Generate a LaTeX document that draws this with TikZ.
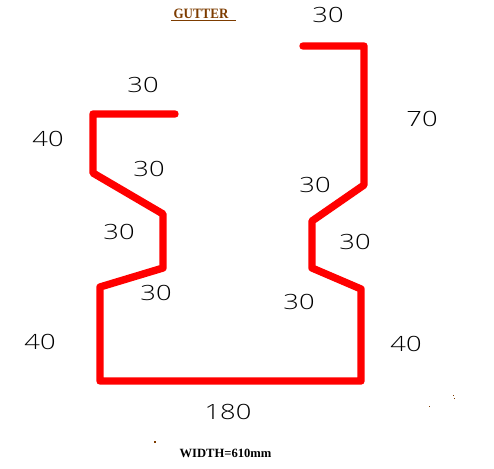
\documentclass[tikz,border=0pt]{standalone}
\usepackage{fontspec}
\setmainfont{Liberation Serif}
\setsansfont{Open Sans Light}
\usepackage{tikz}
\definecolor{gutterred}{RGB}{255,0,0}
\definecolor{titlebrown}{RGB}{125,60,0}
\tikzset{
	dimtext/.style={font=\sffamily\fontsize{21}{21}\selectfont,text=black,xscale=1.3,inner sep=0pt},
	profile/.style={draw=gutterred,line width=7.4pt,line join=round,line cap=round},
	speck/.style={fill=titlebrown,draw=none,minimum size=1.2pt,inner sep=0pt},
}
\begin{document}
\begin{tikzpicture}[x=1pt,y=-1pt]
	\useasboundingbox (0,0) rectangle (494,468);
	\draw[profile] (175,114) -- (93,114) -- (93,173) -- (163,214) -- (163,268) -- (100,287) -- (100,381) -- (361,381) -- (361,289) -- (312,268) -- (312,221) -- (364,185) -- (364,46) -- (303,46);
	\node[font=\bfseries\fontsize{13}{13}\selectfont,text=titlebrown,inner sep=0pt,yscale=1.1] (title) at (201,14) {GUTTER};
	\draw[titlebrown,line width=0.9pt] (171,20.5) -- (236,20.5);
	\node[font=\bfseries\fontsize{12.6}{13}\selectfont,inner sep=0pt] (width) at (225.5,453.5) {WIDTH=610mm};
	\node[dimtext] (topright) at (328,15) {30};
	\node[dimtext] (topleft) at (143,85) {30};
	\node[dimtext] (rightlong) at (422,119) {70};
	\node[dimtext] (leftupper) at (48,139) {40};
	\node[dimtext] (leftslope) at (149,169) {30};
	\node[dimtext] (rightslope) at (315,185) {30};
	\node[dimtext] (leftneck) at (119,232) {30};
	\node[dimtext] (rightneck) at (355,242) {30};
	\node[dimtext] (leftfoot) at (156,293) {30};
	\node[dimtext] (rightfoot) at (299,302) {30};
	\node[dimtext] (leftlower) at (40,342) {40};
	\node[dimtext] (rightlower) at (406,344) {40};
	\node[dimtext] (bottom) at (228,412) {180};
	\node[speck] (speckA) at (453.5,395.5) {};
	\node[speck] (speckB) at (454.5,398.5) {};
	\node[speck] (speckC) at (429.5,406.5) {};
	\node[speck] (speckD) at (155,442) {};
\end{tikzpicture}
\end{document}
